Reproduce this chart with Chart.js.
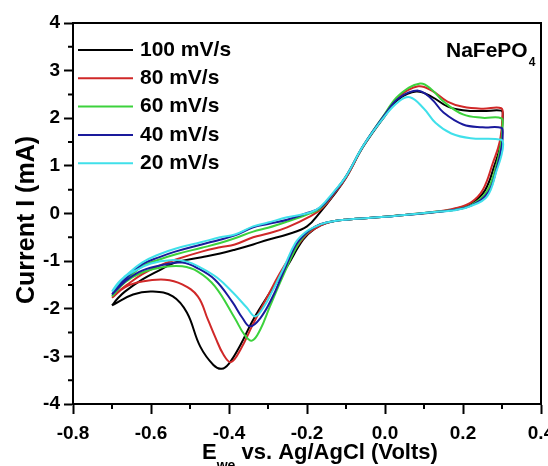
<!DOCTYPE html>
<html>
<head>
<meta charset="utf-8">
<script src="https://cdn.jsdelivr.net/npm/chart.js@4.4.0/dist/chart.umd.min.js"></script>
<style>
  body { margin: 0; background: #fff; }
  #wrap { width: 548px; height: 466px; position: relative; }
</style>
</head>
<body>
<div id="wrap"><canvas id="cvChart"></canvas></div>
<script>
// E (V vs Ag/AgCl) and I (mA), each loop: anodic sweep right, then cathodic sweep back left
const e100 = [-0.700, -0.685, -0.667, -0.623, -0.580, -0.538, -0.470, -0.423, -0.385, -0.338, -0.300, -0.251, -0.200, -0.167, -0.130, -0.100, -0.056, 0.000, 0.035, 0.080, 0.120, 0.160, 0.200, 0.250, 0.298,
              0.302, 0.296, 0.281, 0.256, 0.222, 0.182, 0.133,
              0.050, 0.000, -0.100, -0.150, -0.180, -0.210, -0.251, -0.295, -0.338, -0.370, -0.400, -0.419, -0.440, -0.474, -0.508, -0.544, -0.595, -0.646, -0.700];
const i100 = [-1.93, -1.78, -1.64, -1.39, -1.20, -1.03, -0.92, -0.84, -0.76, -0.65, -0.55, -0.44, -0.27, 0.02, 0.40, 0.75, 1.40, 2.05, 2.40, 2.56, 2.45, 2.25, 2.17, 2.15, 2.16,
              2.08, 1.45, 1.02, 0.48, 0.22, 0.10, 0.03,
              -0.03, -0.07, -0.13, -0.20, -0.32, -0.55, -1.11, -1.66, -2.23, -2.75, -3.15, -3.26, -3.18, -2.79, -2.08, -1.74, -1.64, -1.70, -1.93];

const e80 = [-0.700, -0.685, -0.667, -0.623, -0.580, -0.538, -0.470, -0.423, -0.385, -0.338, -0.300, -0.251, -0.192, -0.160, -0.130, -0.100, -0.056, 0.000, 0.035, 0.085, 0.120, 0.160, 0.200, 0.250, 0.298,
             0.301, 0.294, 0.277, 0.251, 0.220, 0.180, 0.133,
             0.050, 0.000, -0.100, -0.150, -0.180, -0.210, -0.262, -0.300, -0.340, -0.370, -0.395, -0.415, -0.435, -0.454, -0.480, -0.520, -0.564, -0.623, -0.667, -0.700];
const i80 = [-1.77, -1.65, -1.53, -1.28, -1.10, -0.97, -0.80, -0.71, -0.65, -0.50, -0.42, -0.29, -0.06, 0.12, 0.42, 0.75, 1.41, 2.08, 2.45, 2.67, 2.58, 2.35, 2.24, 2.20, 2.21,
             2.00, 1.50, 1.07, 0.50, 0.23, 0.11, 0.04,
             -0.03, -0.07, -0.13, -0.20, -0.32, -0.52, -1.15, -1.72, -2.35, -2.85, -3.12, -2.95, -2.60, -2.23, -1.74, -1.49, -1.39, -1.43, -1.55, -1.77];

const e60 = [-0.700, -0.685, -0.667, -0.623, -0.580, -0.538, -0.470, -0.423, -0.385, -0.338, -0.300, -0.251, -0.200, -0.167, -0.130, -0.100, -0.056, 0.000, 0.035, 0.090, 0.120, 0.150, 0.200, 0.250, 0.298,
             0.301, 0.297, 0.285, 0.260, 0.222, 0.180, 0.135,
             0.050, 0.000, -0.100, -0.150, -0.180, -0.205, -0.226, -0.262, -0.295, -0.320, -0.341, -0.360, -0.385, -0.436, -0.480, -0.520, -0.564, -0.623, -0.667, -0.700];
const i60 = [-1.74, -1.58, -1.43, -1.11, -0.97, -0.86, -0.72, -0.62, -0.52, -0.38, -0.30, -0.17, -0.02, 0.10, 0.45, 0.78, 1.42, 2.10, 2.48, 2.73, 2.60, 2.35, 2.08, 2.01, 2.00,
             1.80, 1.45, 1.00, 0.45, 0.18, 0.08, 0.04,
             -0.03, -0.07, -0.13, -0.19, -0.28, -0.45, -0.69, -1.32, -1.95, -2.44, -2.67, -2.55, -2.20, -1.53, -1.22, -1.11, -1.12, -1.24, -1.45, -1.74];

const e40 = [-0.700, -0.685, -0.667, -0.623, -0.580, -0.538, -0.470, -0.423, -0.385, -0.338, -0.300, -0.251, -0.200, -0.167, -0.130, -0.100, -0.056, 0.000, 0.035, 0.085, 0.120, 0.150, 0.200, 0.250, 0.298,
             0.302, 0.299, 0.288, 0.265, 0.222, 0.180, 0.140,
             0.050, 0.000, -0.100, -0.150, -0.180, -0.205, -0.230, -0.260, -0.290, -0.320, -0.346, -0.365, -0.392, -0.436, -0.480, -0.520, -0.564, -0.623, -0.667, -0.700];
const i40 = [-1.70, -1.52, -1.38, -1.07, -0.92, -0.80, -0.65, -0.55, -0.46, -0.29, -0.22, -0.13, 0.01, 0.12, 0.45, 0.78, 1.42, 2.08, 2.42, 2.58, 2.40, 2.12, 1.87, 1.81, 1.80,
             1.70, 1.40, 1.00, 0.45, 0.17, 0.08, 0.04,
             -0.03, -0.07, -0.13, -0.19, -0.28, -0.43, -0.68, -1.22, -1.78, -2.20, -2.37, -2.20, -1.85, -1.39, -1.15, -1.03, -1.07, -1.20, -1.43, -1.70];

const e20 = [-0.700, -0.685, -0.667, -0.623, -0.580, -0.538, -0.470, -0.423, -0.385, -0.338, -0.300, -0.251, -0.192, -0.167, -0.133, -0.100, -0.056, 0.000, 0.035, 0.064, 0.100, 0.130, 0.170, 0.220, 0.298,
             0.303, 0.298, 0.287, 0.262, 0.218, 0.180, 0.140,
             0.050, 0.000, -0.100, -0.150, -0.180, -0.205, -0.230, -0.260, -0.290, -0.310, -0.333, -0.354, -0.390, -0.430, -0.474, -0.508, -0.550, -0.600, -0.640, -0.670, -0.700];
const i20 = [-1.64, -1.46, -1.32, -1.03, -0.86, -0.74, -0.60, -0.50, -0.44, -0.27, -0.19, -0.08, 0.02, 0.13, 0.44, 0.78, 1.42, 2.05, 2.35, 2.44, 2.20, 1.90, 1.68, 1.58, 1.55,
             1.45, 1.20, 0.92, 0.36, 0.15, 0.07, 0.04,
             -0.03, -0.07, -0.13, -0.19, -0.28, -0.40, -0.62, -1.15, -1.65, -1.95, -2.16, -1.98, -1.66, -1.35, -1.13, -1.01, -0.98, -1.05, -1.20, -1.35, -1.64];

const seriesNames = ['100 mV/s', '80 mV/s', '60 mV/s', '40 mV/s', '20 mV/s'];
const seriesColors = ['#000000', '#d02828', '#3cd23c', '#1a1a9c', '#40e0ea'];
const seriesE = [e100, e80, e60, e40, e20];
const seriesI = [i100, i80, i60, i40, i20];

const xMinorTicks = [-0.7, -0.5, -0.3, -0.1, 0.1, 0.3];
const yMinorTicks = [-3.5, -2.5, -1.5, -0.5, 0.5, 1.5, 2.5, 3.5];

const FONT = '"Liberation Sans", Arial, sans-serif';

const datasets = seriesNames.map((name, k) => ({
    label: name,
    data: seriesE[k].map((e, j) => ({ x: e, y: seriesI[k][j] })),
    borderColor: seriesColors[k],
    backgroundColor: seriesColors[k],
    borderWidth: 2,
    pointRadius: 0,
    showLine: true,
    tension: 0.4,
    fill: false,
    order: seriesNames.length - k   // cyan drawn last
}));

// frame, minor ticks, legend, labels
const decorPlugin = {
    id: 'decor',
    afterDraw(chart) {
        const ctx = chart.ctx;
        const area = chart.chartArea;
        const xs = chart.scales.x, ys = chart.scales.y;
        ctx.save();
        ctx.strokeStyle = '#000';
        ctx.lineWidth = 2;
        ctx.beginPath();
        ctx.moveTo(area.left, area.top);
        ctx.lineTo(area.right, area.top);
        ctx.lineTo(area.right, area.bottom);
        ctx.stroke();

        ctx.beginPath();
        xMinorTicks.forEach(v => {
            const px = xs.getPixelForValue(v);
            ctx.moveTo(px, area.bottom);
            ctx.lineTo(px, area.bottom + 5);
        });
        yMinorTicks.forEach(v => {
            const py = ys.getPixelForValue(v);
            ctx.moveTo(area.left - 5, py);
            ctx.lineTo(area.left, py);
        });
        ctx.stroke();

        // legend
        ctx.font = 'bold 21px ' + FONT;
        ctx.textBaseline = 'middle';
        ctx.textAlign = 'left';
        seriesNames.forEach((name, k) => {
            const y = 50 + k * 28.3;
            ctx.strokeStyle = seriesColors[k];
            ctx.beginPath();
            ctx.moveTo(78, y);
            ctx.lineTo(133, y);
            ctx.stroke();
            ctx.fillStyle = '#000';
            ctx.fillText(name, 140, y);
        });

        // sample label
        ctx.textBaseline = 'alphabetic';
        ctx.font = 'bold 21px ' + FONT;
        ctx.fillText('NaFePO', 446, 57);
        const w = ctx.measureText('NaFePO').width;
        ctx.font = 'bold 12px ' + FONT;
        ctx.fillText('4', 446 + w + 1, 66);

        // x title
        ctx.font = 'bold 22px ' + FONT;
        ctx.fillText('E', 202, 459);
        let xp = 202 + ctx.measureText('E').width;
        ctx.font = 'bold 14px ' + FONT;
        ctx.fillText('we', xp, 470);
        xp += ctx.measureText('we').width;
        ctx.font = 'bold 22px ' + FONT;
        ctx.fillText(' vs. Ag/AgCl (Volts)', xp, 459);

        // y title
        ctx.translate(27, 220);
        ctx.rotate(-Math.PI / 2);
        ctx.textAlign = 'center';
        ctx.textBaseline = 'middle';
        ctx.font = 'bold 25px ' + FONT;
        ctx.fillText('Current I (mA)', 0, 0);
        ctx.restore();
    }
};

new Chart(document.getElementById('cvChart'), {
    type: 'scatter',
    data: { datasets: datasets },
    options: {
        responsive: true,
        maintainAspectRatio: false,
        animation: false,
        layout: { padding: { left: 0, top: 23, right: 7, bottom: 0 } },
        plugins: {
            legend: { display: false },
            tooltip: { enabled: false }
        },
        scales: {
            x: {
                type: 'linear',
                min: -0.8,
                max: 0.4,
                ticks: {
                    stepSize: 0.2,
                    color: '#000',
                    font: { family: FONT, size: 19, weight: 'bold' },
                    padding: 8,
                    maxRotation: 0,
                    callback: v => Math.abs(v) < 1e-9 ? '0.0' : v.toFixed(1)
                },
                grid: { drawOnChartArea: false, tickLength: 10, tickWidth: 2, tickColor: '#000' },
                border: { color: '#000', width: 2 },
                afterFit: s => { s.height = 62; s.paddingLeft = 0; s.paddingRight = 0; }
            },
            y: {
                type: 'linear',
                min: -4,
                max: 4,
                ticks: {
                    stepSize: 1,
                    color: '#000',
                    font: { family: FONT, size: 19, weight: 'bold' },
                    padding: 4
                },
                grid: { drawOnChartArea: false, tickLength: 9, tickWidth: 2, tickColor: '#000' },
                border: { color: '#000', width: 2 },
                afterFit: s => { s.width = 73; s.paddingTop = 0; s.paddingBottom = 0; }
            }
        }
    },
    plugins: [decorPlugin]
});
</script>
</body>
</html>
